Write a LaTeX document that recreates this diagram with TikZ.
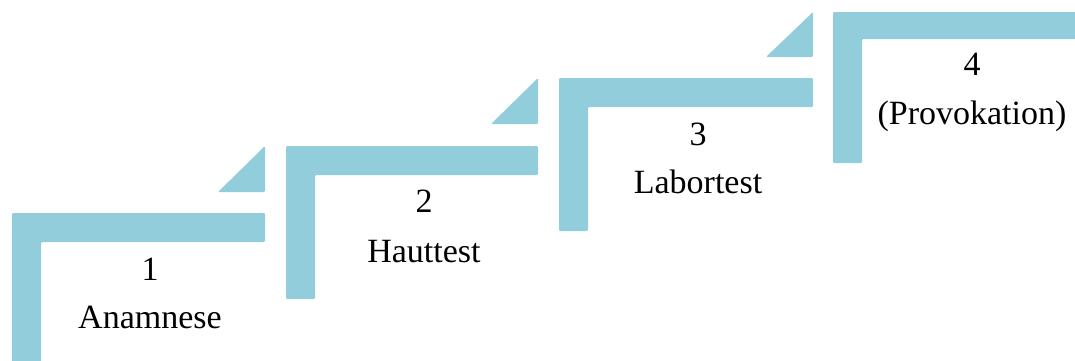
\documentclass[tikz,border=0pt]{standalone}
\usepackage{fontspec}
\setmainfont{Liberation Serif}
\definecolor{stepblue}{HTML}{92CDDC}
\tikzset{
  stairfill/.style={fill=stepblue, draw=none, rounded corners=1.2pt},
  steplabel/.style={anchor=base, inner sep=0pt, font=\fontsize{34}{40}\selectfont, text=black}
}
\begin{document}
\begin{tikzpicture}[x=1pt,y=-1pt]
\useasboundingbox (0,0) rectangle (1075,360);
\begin{scope}
\clip (0,0) rectangle (1075,360);
% step 1
\fill[stairfill] (12,213) -- (265,213) -- (265,242) -- (41,242) -- (41,366) -- (12,366) -- cycle;
\fill[stairfill] (265,146) -- (265,192) -- (218,192) -- cycle;
% step 2
\fill[stairfill] (286,146) -- (538,146) -- (538,175) -- (315,175) -- (315,299) -- (286,299) -- cycle;
\fill[stairfill] (538,78) -- (538,124) -- (491,124) -- cycle;
% step 3
\fill[stairfill] (559,78) -- (813,78) -- (813,107) -- (588,107) -- (588,231) -- (559,231) -- cycle;
\fill[stairfill] (813,12) -- (813,57) -- (766,57) -- cycle;
% step 4
\fill[stairfill] (833,12) -- (1082,12) -- (1082,39) -- (862,39) -- (862,163) -- (833,163) -- cycle;
\end{scope}
% labels
\node[steplabel] (n1) at (150,280) {1};
\node[steplabel] (t1) at (150,328) {Anamnese};
\node[steplabel] (n2) at (424,212) {2};
\node[steplabel] (t2) at (424,262) {Hauttest};
\node[steplabel] (n3) at (698,145) {3};
\node[steplabel] (t3) at (698,193) {Labortest};
\node[steplabel] (n4) at (972,75) {4};
\node[steplabel] (t4) at (972,124) {(Provokation)};
\end{tikzpicture}
\end{document}
